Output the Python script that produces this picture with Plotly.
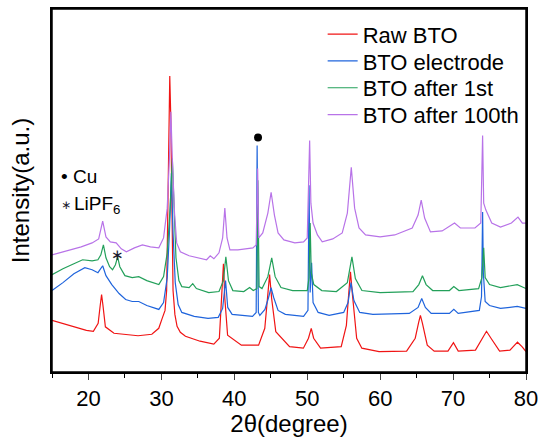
import plotly.graph_objects as go

# ---- data (2theta in degrees, intensity in arbitrary offset units) ----
raw_x = [15.0, 17.36, 19.72, 20.67, 21.33, 21.61, 21.80, 21.99, 22.32, 23.50, 26.80, 28.69, 29.64, 30.11,
         30.5, 30.72, 30.86, 31.05, 31.15, 31.29, 31.45, 31.6, 31.85, 32.15, 32.6, 33.3, 35.30, 37.19,
         37.95, 38.23, 38.51, 38.70, 39.08, 40.97, 43.33, 44.18, 44.56, 44.84, 45.12, 45.69, 47.58,
         49.47, 50.17, 50.55, 50.88, 51.83, 54.66, 55.37, 55.70, 55.93, 56.17, 56.78, 57.49, 59.85,
         63.63, 64.81, 65.28, 65.52, 65.80, 66.46, 67.41, 69.30, 70.05, 70.71, 73.07, 74.02, 74.58,
         75.20, 76.38, 77.80, 78.83, 79.45, 80.0]
raw_y = [52, 47, 42, 41, 49, 67, 78, 67, 45.5, 39, 36.5, 38, 44, 54,
         62, 82, 140, 256, 298, 256, 140, 82, 58, 46, 40, 36, 31, 28,
         34, 74, 109, 74, 37, 27, 27, 44, 74, 98, 74, 40.5, 25.5,
         24, 34, 44, 34, 24, 25.5, 47, 80, 101, 80, 34, 24, 20.6,
         21, 34, 50, 57, 49, 27, 21, 21, 29.6, 21, 22, 34, 41,
         34, 21, 22, 30, 25.5, 20.6]

elec_x = [15.0, 16.5, 18.0, 19.5, 20.5, 21.3, 21.95, 22.4, 23.2, 24.2, 25.1, 26.0, 26.9, 28.0, 29.65,
          30.3, 30.8, 31.1, 31.37, 31.6, 31.9, 32.3, 32.8, 34.5, 36.4, 37.8, 38.4, 38.8, 39.1, 39.7,
          42.5, 43.0, 43.13, 43.3, 43.5, 44.2, 44.7, 45.04, 45.4, 46.0, 47.0, 49.5, 50.1, 50.25, 50.4,
          50.6, 50.8, 51.5, 53.0, 55.0, 55.6, 56.0, 56.4, 57.2, 59.0, 64.0, 65.2, 65.7, 66.2, 67.0,
          69.5, 70.1, 70.7, 73.6, 73.9, 74.05, 74.15, 74.4, 75.0, 76.5, 78.8, 80.0]
elec_y = [82, 90, 99, 105, 103, 100, 107, 97, 88, 79, 73, 71, 71, 67, 63,
          70, 95, 140, 200, 140, 90, 68, 60, 56, 54, 55, 64, 92, 65, 58,
          56, 60, 228, 60, 57, 63, 75, 85, 75, 62, 58, 56, 62, 188, 80,
          110, 70, 60, 57, 60, 70, 90, 72, 60, 58, 59, 65, 74, 65, 59,
          59, 63, 59, 62, 76, 161, 100, 71, 67, 64, 66, 64]

first_x = [15.0, 16.5, 18.0, 19.2, 20.5, 21.3, 21.7, 22.05, 22.4, 22.9, 23.3, 23.7, 24.0, 24.3, 25.0,
           26.0, 26.9, 28.0, 29.65, 30.3, 30.8, 31.2, 31.5, 31.75, 32.0, 32.4, 32.8, 33.8, 34.3, 34.8,
           36.5, 37.9, 38.5, 38.84, 39.2, 39.8, 41.3, 42.1, 42.6, 43.1, 43.23, 43.4, 43.8, 44.6, 45.13,
           45.6, 46.4, 48.0, 50.0, 50.25, 50.4, 50.55, 50.9, 52.0, 54.0, 55.5, 56.13, 56.6, 57.5, 60.0,
           64.5, 65.3, 65.8, 66.3, 67.2, 69.5, 70.1, 70.8, 73.5, 73.95, 74.2, 74.4, 75.0, 76.5, 78.8, 80.0]
first_y = [98, 104, 109, 113, 112, 113, 118, 128, 115, 106, 103, 108, 116, 106, 97,
           95, 96, 92, 88, 96, 120, 165, 215, 160, 115, 92, 86, 85, 89, 84,
           80, 81, 92, 116, 92, 82, 81, 85, 82, 84, 193, 86, 84, 96, 115,
           96, 85, 82, 82, 95, 150, 100, 88, 82, 81, 90, 116, 94, 82, 80,
           81, 88, 97, 88, 82, 82, 86, 82, 84, 95, 125, 95, 88, 85, 88, 84]

hund_x = [15.0, 17.0, 19.0, 20.5, 21.4, 21.95, 22.4, 23.0, 23.8, 24.5, 25.2, 26.3, 27.4, 28.5, 29.65,
          30.3, 30.8, 31.1, 31.3, 31.5, 31.8, 32.1, 32.6, 33.8, 34.9, 36.2, 36.7, 37.2, 37.9, 38.4,
          38.7, 39.0, 39.4, 40.5, 42.55, 43.0, 43.2, 43.35, 43.9, 44.6, 45.05, 45.5, 46.0, 46.8, 48.3,
          49.5, 50.0, 50.33, 50.5, 50.8, 51.4, 52.06, 53.5, 54.8, 55.5, 56.04, 56.5, 57.1, 58.0, 60.0,
          62.0, 64.4, 65.2, 65.63, 66.1, 66.9, 68.5, 70.2, 71.0, 73.0, 73.8, 74.05, 74.2, 74.5, 75.3,
          76.5, 78.0, 78.9, 79.5, 80.0]
hund_y = [118, 122, 126, 130, 134, 152, 136, 131, 130, 124, 121, 125, 128, 126, 125,
          135, 165, 215, 262, 215, 160, 130, 121, 117, 115, 113, 117, 114, 120, 135,
          165, 135, 123, 123, 125, 128, 205, 135, 140, 160, 181, 158, 140, 133, 130,
          131, 135, 233, 170, 150, 138, 131, 134, 140, 160, 206, 165, 145, 138, 136,
          138, 145, 158, 173, 155, 141, 142, 150, 145, 145, 150, 238, 170, 163, 150,
          146, 150, 156, 150, 150]

series_names = ["Raw BTO", "BTO electrode", "BTO after 1st", "BTO after 100th"]
series_colors = ["#f01414", "#1f64dc", "#23a05a", "#b873e8"]

x_ticks = [20, 30, 40, 50, 60, 70, 80]
cu_mark_x = [43.25]
cu_mark_y = [236]
lipf6_mark_x = [24.0]
lipf6_mark_y = [118]

FONT = "Liberation Sans, Arial, sans-serif"
legend_ids = ["legend", "legend2", "legend3", "legend4"]
legend_rows_px = [33, 60, 87, 114]

fig = go.Figure()
for xs, ys, name, col, lid in zip([raw_x, elec_x, first_x, hund_x], [raw_y, elec_y, first_y, hund_y],
                                  series_names, series_colors, legend_ids):
    fig.add_trace(go.Scatter(x=xs, y=ys, mode="lines", name=name, legend=lid,
                             line=dict(color=col, width=1.2)))

fig.add_trace(go.Scatter(x=cu_mark_x, y=cu_mark_y, mode="markers", showlegend=False,
                         marker=dict(color="black", size=8)))
fig.add_annotation(x=lipf6_mark_x[0], y=lipf6_mark_y[0], text="∗", showarrow=False,
                   font=dict(family="DejaVu Sans", size=15, color="#1a1a2e"))

fig.add_annotation(xref="paper", yref="paper", x=0.015, y=(373 - 176) / 365.5, xanchor="left",
                   yanchor="middle", text="• Cu", showarrow=False,
                   font=dict(family=FONT, size=19, color="black"))
fig.add_annotation(xref="paper", yref="paper", x=0.015, y=(373 - 205) / 365.5, xanchor="left",
                   yanchor="middle", text="∗", showarrow=False,
                   font=dict(family="DejaVu Sans", size=12, color="#1a1a2e"))
fig.add_annotation(xref="paper", yref="paper", x=0.043, y=(373 - 205) / 365.5, xanchor="left",
                   yanchor="middle", text="LiPF<sub>6</sub>", showarrow=False,
                   font=dict(family=FONT, size=19, color="black"))

# plot frame
fig.add_shape(type="rect", xref="paper", yref="paper", x0=0, y0=0, x1=1, y1=1,
              line=dict(color="black", width=1.5), layer="above")

legend_layout = {}
for lid, row in zip(legend_ids, legend_rows_px):
    legend_layout[lid] = dict(x=0.571, y=(373 - row) / 365.5, xanchor="left", yanchor="middle",
                              bgcolor="rgba(0,0,0,0)", font=dict(family=FONT, size=22))

fig.update_layout(
    width=545, height=437,
    margin=dict(l=52, r=14, t=7, b=64),
    paper_bgcolor="white", plot_bgcolor="white",
    font=dict(family=FONT, color="black"),
    showlegend=True,
    xaxis=dict(range=[15, 80], tickvals=x_ticks, ticks="outside", ticklen=6, tickwidth=1.3,
               showline=True, linewidth=1.5, linecolor="black", mirror=True,
               showgrid=False, zeroline=False, tickfont=dict(size=22),
               minor=dict(dtick=5, tick0=15, ticks="outside", ticklen=4, tickwidth=1.3, tickcolor="black"),
               title=dict(text="2θ(degree)", font=dict(size=24), standoff=2)),
    yaxis=dict(range=[0, 365.5], showticklabels=False, ticks="", showline=True, linewidth=1.5,
               linecolor="black", mirror=True, showgrid=False, zeroline=False,
               title=dict(text="Intensity(a.u.)", font=dict(size=24), standoff=14)),
    **legend_layout,
)

fig.write_html("out.html", config={"displayModeBar": False},
               post_script="document.body.style.margin='0px';")
